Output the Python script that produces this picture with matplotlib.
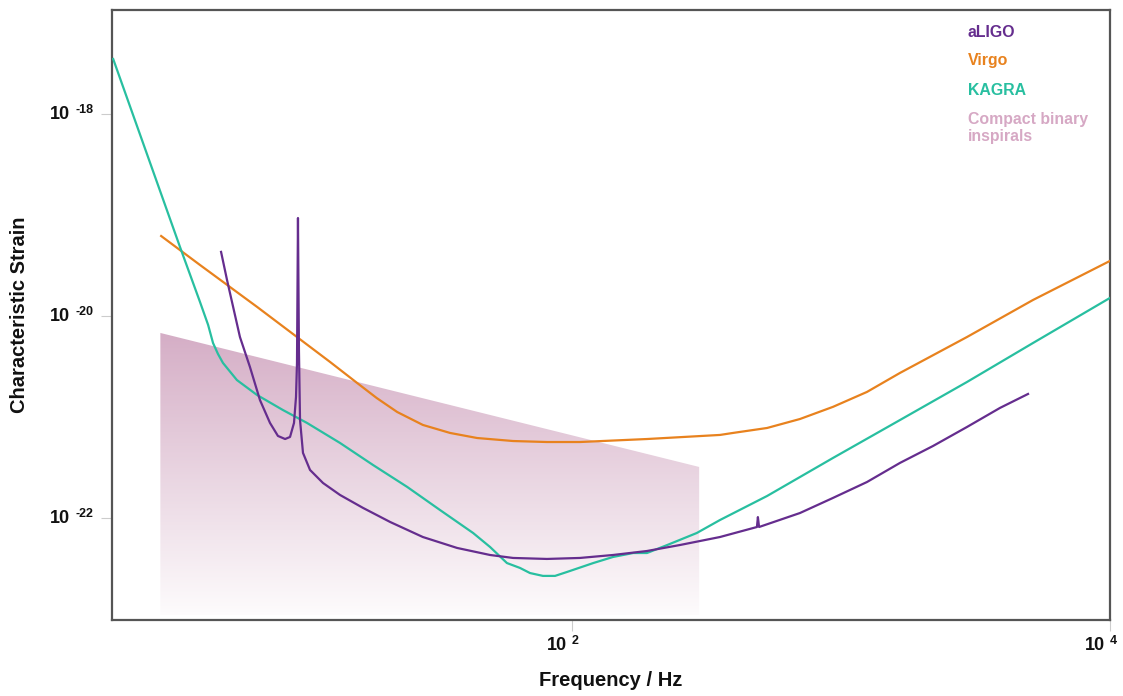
import numpy as np
import matplotlib
matplotlib.use("Agg")
import matplotlib.pyplot as plt
from matplotlib.patches import Polygon
from matplotlib.colors import LinearSegmentedColormap

# ---------------- data ----------------
kagra_f = [1.97, 3.49, 4.14, 4.44, 4.63, 4.83, 5.04, 5.68, 6.75, 8.43, 10.35, 13.73,
           18.2, 24.4, 32.3, 42.9, 49.6, 57.3, 64.1, 69.8, 78.0, 86.5, 95.8, 120, 142,
           169, 190, 226, 291, 355, 531, 934, 1657, 2940, 5173, 10000]
kagra_h = [3.5e-18, 4.82e-20, 1.38e-20, 8.15e-21, 5.40e-21, 4.21e-21, 3.43e-21,
           2.32e-21, 1.65e-21, 1.17e-21, 8.73e-22, 5.53e-22, 3.35e-22, 2.03e-22,
           1.20e-22, 7.10e-23, 5.16e-23, 3.58e-23, 3.2e-23, 2.85e-23, 2.67e-23,
           2.67e-23, 2.92e-23, 3.58e-23, 4.11e-23, 4.50e-23, 4.50e-23, 5.40e-23,
           7.10e-23, 9.55e-23, 1.65e-22, 3.93e-22, 9.33e-22, 2.22e-21, 5.40e-21,
           1.51e-20]

ligo_f = [4.96, 5.22, 5.83, 6.35, 6.92, 7.54, 8.07, 8.58, 8.95, 9.26, 9.42, 9.50,
          9.58, 9.66, 9.75, 10.0, 10.62, 11.87, 13.73, 16.7, 21.1, 27.9, 37.4, 49.6,
          60.4, 80.7, 107, 142, 190, 252, 355, 487, 491, 496, 704, 934, 1249, 1657,
          2198, 2940, 3901, 4958]
ligo_h = [4.31e-20, 2.27e-20, 6.19e-21, 3.13e-21, 1.47e-21, 8.73e-22, 6.49e-22,
          6.05e-22, 6.34e-22, 8.73e-22, 1.58e-21, 3.43e-21, 9.33e-20, 4.60e-21,
          9.33e-22, 4.41e-22, 2.99e-22, 2.22e-22, 1.69e-22, 1.26e-22, 9.12e-23,
          6.48e-23, 5.05e-23, 4.30e-23, 4.02e-23, 3.93e-23, 4.02e-23, 4.30e-23,
          4.71e-23, 5.40e-23, 6.48e-23, 8.14e-23, 1.02e-22, 8.14e-23, 1.12e-22,
          1.58e-22, 2.27e-22, 3.51e-22, 5.16e-22, 7.96e-22, 1.23e-21, 1.69e-21]

virgo_f = [2.97, 4.14, 6.75, 9.50, 12.6, 15.9, 18.8, 22.4, 27.9, 35.2, 44.4, 60.4,
           80.7, 107, 190, 355, 397, 531, 704, 934, 1249, 1657, 2940, 5173, 10000]
virgo_h = [6.19e-20, 3.20e-20, 1.23e-20, 6.19e-21, 3.51e-21, 2.17e-21, 1.54e-21,
           1.12e-21, 8.34e-22, 6.95e-22, 6.19e-22, 5.78e-22, 5.65e-22, 5.65e-22,
           6.05e-22, 6.64e-22, 6.95e-22, 7.78e-22, 9.55e-22, 1.26e-21, 1.77e-21,
           2.73e-21, 6.19e-21, 1.44e-20, 3.51e-20]

cbc_f = [2.95, 297]
cbc_top = [6.79e-21, 3.20e-22]
cbc_bottom = 1.1e-23

legend_names = ["aLIGO", "Virgo", "KAGRA", "Compact binary\ninspirals"]
x_ticks = [1e2, 1e4]
x_tick_exp = ["2", "4"]
y_ticks = [1e-18, 1e-20, 1e-22]
y_tick_exp = ["-18", "-20", "-22"]

# ---------------- style ----------------
C_LIGO = "#652d8e"
C_VIRGO = "#e8821e"
C_KAGRA = "#28bfa0"
C_CBC = "#d6a8c4"
TXT = "#111111"
PX = 0.72  # points per pixel at 100 dpi

plt.rcParams["font.family"] = ["Liberation Sans", "DejaVu Sans"]
plt.rcParams["font.weight"] = "bold"

fig = plt.figure(figsize=(11.23, 6.96), dpi=100)
ax = fig.add_axes([112 / 1123, 1 - 620 / 696, (1110 - 112) / 1123, (620 - 10) / 696])
ax.set_xscale("log")
ax.set_yscale("log")
ax.set_xlim(1.95, 1e4)
ax.set_ylim(9.77e-24, 1.07e-17)

# gradient-filled compact-binary region
poly = Polygon([(cbc_f[0], cbc_top[0]), (cbc_f[1], cbc_top[1]),
                (cbc_f[1], cbc_bottom), (cbc_f[0], cbc_bottom)],
               closed=True, transform=ax.transData, facecolor="none", edgecolor="none")
ax.add_patch(poly)
yy = np.linspace(0, 1, 600)
grad = np.clip((yy - 0.01) / (0.47 - 0.01), 0, 1)[:, None]
cmap = LinearSegmentedColormap.from_list("cbc", ["#fdfbfc", "#d5aec6"])
im = ax.imshow(grad, extent=(0, 1, 0, 1), transform=ax.transAxes, origin="lower",
               aspect="auto", cmap=cmap, vmin=0, vmax=1, zorder=1,
               interpolation="bilinear")
im.set_clip_path(poly)

ax.plot(virgo_f, virgo_h, color=C_VIRGO, lw=1.6, zorder=3, solid_joinstyle="round")
ax.plot(kagra_f, kagra_h, color=C_KAGRA, lw=1.6, zorder=3, solid_joinstyle="round")
ax.plot(ligo_f, ligo_h, color=C_LIGO, lw=1.6, zorder=4, solid_joinstyle="round")

ax.set_xticks(x_ticks)
ax.set_xticklabels([])
ax.set_yticks(y_ticks)
ax.set_yticklabels([])
ax.minorticks_off()
ax.tick_params(axis="both", which="major", length=8, width=0.8, color="#cccccc")

# tick labels: "10" with a raised exponent
for v, e in zip(y_ticks, y_tick_exp):
    ax.annotate("10", xy=(0, v), xycoords=("axes fraction", "data"),
                xytext=(-42 * PX, -1 * PX), textcoords="offset points",
                ha="right", va="center", fontsize=13, fontweight="bold", color=TXT)
    ax.annotate(e, xy=(0, v), xycoords=("axes fraction", "data"),
                xytext=(-37 * PX, 4 * PX), textcoords="offset points",
                ha="left", va="center", fontsize=9, fontweight="bold", color=TXT)
for v, e in zip(x_ticks, x_tick_exp):
    ax.annotate("10", xy=(v, 0), xycoords=("data", "axes fraction"),
                xytext=(-5 * PX, -25 * PX), textcoords="offset points",
                ha="right", va="center", fontsize=13, fontweight="bold", color=TXT)
    ax.annotate(e, xy=(v, 0), xycoords=("data", "axes fraction"),
                xytext=(0 * PX, -21 * PX), textcoords="offset points",
                ha="left", va="center", fontsize=9, fontweight="bold", color=TXT)

for sp in ax.spines.values():
    sp.set_color("#555555")
    sp.set_linewidth(1.6)

fig.text(611 / 1123, 1 - 681 / 696, "Frequency / Hz", ha="center", va="center",
         fontsize=14.5, fontweight="bold", color=TXT)
fig.text(20 / 1123, 1 - 315 / 696, "Characteristic Strain", ha="center", va="center",
         rotation=90, fontsize=14.5, fontweight="bold", color=TXT)

leg_colors = [C_LIGO, C_VIRGO, C_KAGRA, C_CBC]
leg_y = [33, 61, 91, 120]
for name, col, yp in zip(legend_names, leg_colors, leg_y):
    fig.text(968 / 1123, 1 - (yp - 8) / 696, name, ha="left", va="top",
             fontsize=11.4, fontweight="bold", color=col, linespacing=1.2)

fig.savefig("out.png", dpi=100)
